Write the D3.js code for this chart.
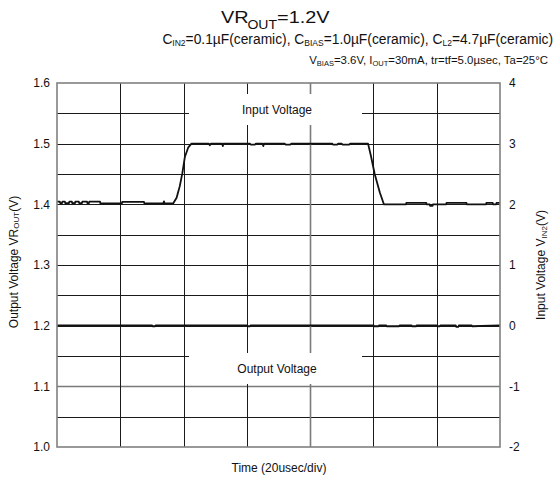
<!DOCTYPE html>
<html>
<head>
<meta charset="utf-8">
<script src="https://cdn.jsdelivr.net/npm/d3@7"></script>
<style>
  html, body { margin: 0; padding: 0; background: #fff; }
  svg { display: block; }
  text { font-family: "Liberation Sans", Arial, Helvetica, sans-serif; fill: #111; }
</style>
</head>
<body>
<svg id="chart" width="555" height="483"></svg>
<script>
// ---------- data ----------
const leftTicks  = [1.0, 1.1, 1.2, 1.3, 1.4, 1.5, 1.6];
const leftTickLabels = ["1.0", "1.1", "1.2", "1.3", "1.4", "1.5", "1.6"];
const rightTicks = [-2, -1, 0, 1, 2, 3, 4];
const rightTickLabels = ["-2", "-1", "0", "1", "2", "3", "4"];
const timeDivs = [0, 20, 40, 60, 80, 100, 120, 140];            // usec
const hGrid = [1.05, 1.1, 1.15, 1.2, 1.25, 1.3, 1.35, 1.4, 1.45, 1.5, 1.55];

// Input voltage V_IN2 (right axis, V) vs time (usec)
const inputTime = [0, 0.9, 1.0, 1.6, 1.7, 2.5, 2.6, 3.8, 3.9, 4.7, 4.8, 5.7, 5.8, 6.9, 7.0, 7.9, 8.0, 9.5, 9.6,
  10.1, 10.2, 13.6, 13.7, 20.5, 20.6, 27.5, 27.6, 33.6, 33.8, 34.0, 36.7,
  37.8, 38.8, 39.6, 40.4, 41.5, 42.5,
  48.0, 48.3, 48.6, 52.2, 52.4, 52.6, 61.0, 61.2, 62.6, 62.8, 65.0, 65.2, 65.4, 72.0, 72.2, 73.8, 74.0,
  87.0, 87.2, 88.6, 88.8, 90.0, 90.2, 92.4, 92.6, 98.3,
  99.2, 100.4, 102.0, 103.3,
  110.3, 110.4, 116.7, 116.8, 117.8, 117.9, 118.7, 118.8, 123.0, 123.1, 129.4, 129.5, 135.6, 135.7,
  137.7, 137.8, 138.8, 138.9, 140];
const inputVolt = [2.045, 2.045, 2.02, 2.02, 2.045, 2.045, 2.02, 2.02, 2.045, 2.045, 2.02, 2.02, 2.045, 2.045, 2.02, 2.02, 2.045, 2.045, 2.02,
  2.02, 2.045, 2.045, 2.015, 2.015, 2.04, 2.04, 2.015, 2.015, 2.05, 2.015, 2.015,
  2.11, 2.30, 2.51, 2.78, 2.94, 3.0,
  3.0, 2.975, 3.0, 3.0, 2.96, 3.0, 3.0, 2.985, 2.985, 3.0, 3.0, 2.96, 3.0, 3.0, 2.985, 2.985, 3.0,
  3.0, 2.985, 2.985, 3.0, 3.0, 2.985, 2.985, 3.0, 3.0,
  2.8, 2.5, 2.2, 2.0,
  2.0, 2.025, 2.025, 2.0, 2.0, 1.975, 1.975, 2.0, 2.0, 2.025, 2.025, 2.0, 2.0, 2.025,
  2.025, 2.0, 2.0, 2.025, 2.025];

// Output voltage VR_OUT (left axis, V) vs time (usec)
const outputTime = [0, 30, 30.2, 31, 31.2, 60, 60.2, 61, 61.2, 100, 100.3, 101.5, 101.8, 104, 104.2, 108, 108.3, 109, 112, 112.2, 113.5, 113.7, 120, 120.2, 121, 121.2, 126, 126.2, 126.8, 127, 131, 131.2, 140];
const outputVolt = [1.2005, 1.2005, 1.199, 1.199, 1.2005, 1.2005, 1.199, 1.199, 1.2005, 1.2005, 1.199, 1.199, 1.2005, 1.2005, 1.199, 1.199, 1.2005, 1.2005, 1.2005, 1.199, 1.199, 1.2005, 1.2005, 1.199, 1.199, 1.2005, 1.2005, 1.198, 1.198, 1.2005, 1.2005, 1.199, 1.2005];

// ---------- layout ----------
const svg = d3.select("#chart");
const plot = { left: 57, right: 500, top: 83, bottom: 447 };

const x = d3.scaleLinear().domain([0, 140]).range([plot.left, plot.right]);
const yL = d3.scaleLinear().domain([1.0, 1.6]).range([plot.bottom, plot.top]);
const yR = d3.scaleLinear().domain([-2, 4]).range([plot.bottom, plot.top]);

// grid
const grayH = new Set([1.1]);
const grayV = new Set([80]);
svg.append("g").selectAll("line").data(hGrid).join("line")
  .attr("x1", plot.left).attr("x2", plot.right)
  .attr("y1", d => Math.round(yL(d)) + 0.5).attr("y2", d => Math.round(yL(d)) + 0.5)
  .attr("stroke", d => grayH.has(d) ? "#7a7a7a" : "#1a1a1a")
  .attr("stroke-width", d => grayH.has(d) ? 1.6 : 1);
svg.append("g").selectAll("line").data(timeDivs.slice(1, -1)).join("line")
  .attr("y1", plot.top).attr("y2", plot.bottom)
  .attr("x1", d => Math.round(x(d)) + 0.5).attr("x2", d => Math.round(x(d)) + 0.5)
  .attr("stroke", d => grayV.has(d) ? "#7a7a7a" : "#1a1a1a")
  .attr("stroke-width", d => grayV.has(d) ? 1.6 : 1);

// label boxes (cover grid)
const labels = [
  { text: "Input Voltage", cy: 110 },
  { text: "Output Voltage", cy: 369 }
];
svg.append("g").selectAll("rect").data(labels).join("rect")
  .attr("x", 189).attr("width", 173)
  .attr("y", d => d.cy - 16).attr("height", 31)
  .attr("fill", "#fff");
svg.append("g").selectAll("text").data(labels).join("text")
  .attr("x", 277).attr("y", d => d.cy + 4)
  .attr("text-anchor", "middle").attr("font-size", 12)
  .text(d => d.text);

// traces
const inputData = inputTime.map((t, i) => [t, inputVolt[i]]);
const outputData = outputTime.map((t, i) => [t, outputVolt[i]]);
svg.append("path").datum(inputData)
  .attr("fill", "none").attr("stroke", "#111").attr("stroke-width", 1.8).attr("stroke-linejoin", "round")
  .attr("d", d3.line().x(d => x(d[0])).y(d => yR(d[1])));
svg.append("path").datum(outputData)
  .attr("fill", "none").attr("stroke", "#111").attr("stroke-width", 1.8).attr("stroke-linejoin", "round")
  .attr("d", d3.line().x(d => x(d[0])).y(d => yL(d[1])));

// frame
svg.append("rect")
  .attr("x", plot.left).attr("y", plot.top)
  .attr("width", plot.right - plot.left).attr("height", plot.bottom - plot.top)
  .attr("fill", "none").attr("stroke", "#808080").attr("stroke-width", 1.6);

// axes
const axL = svg.append("g").attr("transform", `translate(${plot.left},0)`)
  .call(d3.axisLeft(yL).tickValues(leftTicks).tickFormat((d, i) => leftTickLabels[i]).tickSize(0).tickPadding(7));
const axR = svg.append("g").attr("transform", `translate(${plot.right},0)`)
  .call(d3.axisRight(yR).tickValues(rightTicks).tickFormat((d, i) => rightTickLabels[i]).tickSize(0).tickPadding(9));
[axL, axR].forEach(a => {
  a.select(".domain").remove();
  a.selectAll("text").attr("font-size", 12).attr("font-family", "Liberation Sans, Arial, sans-serif").attr("fill", "#111");
});

// axis titles
const lt = svg.append("text").attr("transform", "translate(18,262) rotate(-90)")
  .attr("text-anchor", "middle").attr("font-size", 12);
lt.append("tspan").text("Output Voltage VR");
lt.append("tspan").attr("font-size", 8).attr("dy", 1).text("OUT");
lt.append("tspan").attr("dy", -1).text("(V)");

const rt = svg.append("text").attr("transform", "translate(545,265) rotate(-90)")
  .attr("text-anchor", "middle").attr("font-size", 12);
rt.append("tspan").text("Input Voltage V");
rt.append("tspan").attr("font-size", 8).attr("dy", 2).text("IN2");
rt.append("tspan").attr("dy", -2).text("(V)");

svg.append("text").attr("x", 279).attr("y", 472).attr("text-anchor", "middle")
  .attr("font-size", 12).text("Time (20usec/div)");

// title (slightly widened like the scan)
const title = svg.append("text").attr("transform", "translate(221,23) scale(1.17,1)").attr("font-size", 17);
title.append("tspan").text("VR");
title.append("tspan").attr("font-size", 12).attr("dy", 6).attr("dx", -1).text("OUT");
title.append("tspan").attr("dy", -6).text("=1.2V");

// condition lines
function subLine(sel, parts, subSize, shift) {
  let prevSub = false;
  parts.forEach(p => {
    const sp = sel.append("tspan").text(p[0]);
    if (p[1]) { sp.attr("font-size", subSize).attr("dy", shift); prevSub = true; }
    else if (prevSub) { sp.attr("dy", -shift); prevSub = false; }
  });
}
const l2 = svg.append("text").attr("x", 553).attr("y", 44).attr("text-anchor", "end").attr("font-size", 13.8);
subLine(l2, [["C"], ["IN2", 1], ["=0.1µF(ceramic), C"], ["BIAS", 1], ["=1.0µF(ceramic), C"], ["L2", 1], ["=4.7µF(ceramic)"]], 8.5, 2);

const l3 = svg.append("text").attr("x", 548).attr("y", 64).attr("text-anchor", "end").attr("font-size", 11.4);
subLine(l3, [["V"], ["BIAS", 1], ["=3.6V, I"], ["OUT", 1], ["=30mA, tr=tf=5.0µsec, Ta=25°C"]], 7.5, 2);
</script>
</body>
</html>
